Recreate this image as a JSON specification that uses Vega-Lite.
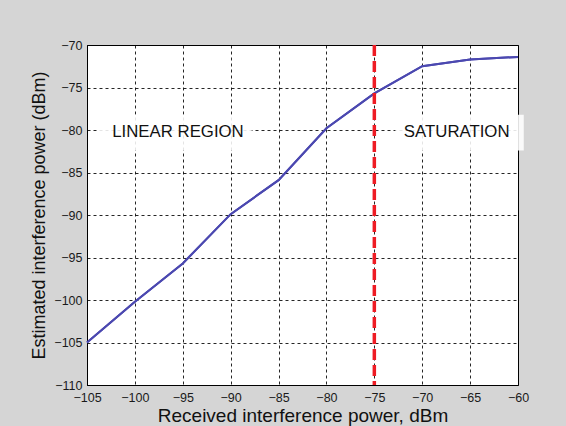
{
  "$schema": "https://vega.github.io/schema/vega-lite/v6.json",
  "width": 431,
  "height": 340,
  "autosize": {"type": "none"},
  "padding": {"left": 87, "top": 45, "right": 48, "bottom": 41},
  "background": "#d5d5d5",
  "config": {
    "view": {"stroke": "#000000", "strokeWidth": 1, "fill": "#ffffff"},
    "font": "Liberation Sans",
    "axis": {
      "grid": true,
      "gridColor": "#000000",
      "gridDash": [3, 3],
      "gridOpacity": 0.85,
      "gridWidth": 1,
      "ticks": false,
      "domainColor": "#000000",
      "labelFont": "Liberation Sans",
      "labelFontSize": 12.5,
      "labelColor": "#1a1a1a",
      "titleFont": "Liberation Sans",
      "titleFontWeight": "normal",
      "titleColor": "#111111"
    }
  },
  "datasets": {
    "curve": [
      {"rx": -105, "est": -105.0},
      {"rx": -100, "est": -100.2},
      {"rx": -95, "est": -95.7},
      {"rx": -90, "est": -89.9},
      {"rx": -85, "est": -85.9},
      {"rx": -80, "est": -79.8},
      {"rx": -75, "est": -75.7},
      {"rx": -70, "est": -72.5},
      {"rx": -65, "est": -71.7},
      {"rx": -60, "est": -71.4}
    ],
    "regions": [
      {"label": "LINEAR REGION", "cx": -95.5, "cy": -80.2, "x1": -103.9, "x2": -87.8, "y1": -78.2, "y2": -82.4},
      {"label": "SATURATION", "cx": -66.4, "cy": -80.2, "x1": -72.8, "x2": -59.4, "y1": -78.2, "y2": -82.4}
    ],
    "threshold": [{"rx": -75}]
  },
  "layer": [
    {
      "data": {"name": "curve"},
      "mark": {"type": "line", "color": "#4b48b0", "strokeWidth": 2},
      "encoding": {
        "x": {
          "field": "rx", "type": "quantitative",
          "scale": {"domain": [-105, -60], "nice": false},
          "axis": {"values": [-105, -100, -95, -90, -85, -80, -75, -70, -65, -60], "title": "Received interference power, dBm", "titleFontSize": 19, "labelPadding": 6, "titlePadding": 3, "labelFlush": false}
        },
        "y": {
          "field": "est", "type": "quantitative",
          "scale": {"domain": [-110, -70], "nice": false, "zero": false},
          "axis": {"values": [-110, -105, -100, -95, -90, -85, -80, -75, -70], "title": "Estimated interference power (dBm)", "titleFontSize": 18, "labelPadding": 5, "titlePadding": 5}
        }
      }
    },
    {
      "data": {"name": "regions"},
      "mark": {"type": "rect", "fill": "#ffffff", "opacity": 0.88},
      "encoding": {
        "x": {"field": "x1", "type": "quantitative"},
        "x2": {"field": "x2"},
        "y": {"field": "y1", "type": "quantitative"},
        "y2": {"field": "y2"}
      }
    },
    {
      "data": {"name": "regions"},
      "mark": {"type": "text", "fontSize": 16.8, "font": "Liberation Sans", "color": "#111111", "align": "center", "baseline": "middle"},
      "encoding": {
        "x": {"field": "cx", "type": "quantitative"},
        "y": {"field": "cy", "type": "quantitative"},
        "text": {"field": "label"}
      }
    },
    {
      "data": {"name": "curve"},
      "mark": {"type": "line", "color": "#4b48b0", "strokeWidth": 2},
      "encoding": {
        "x": {"field": "rx", "type": "quantitative"},
        "y": {"field": "est", "type": "quantitative"}
      }
    },
    {
      "data": {"name": "threshold"},
      "mark": {"type": "rule", "color": "#ee1c24", "strokeWidth": 3.5, "strokeDash": [11, 5]},
      "encoding": {
        "x": {"field": "rx", "type": "quantitative"}
      }
    }
  ]
}
